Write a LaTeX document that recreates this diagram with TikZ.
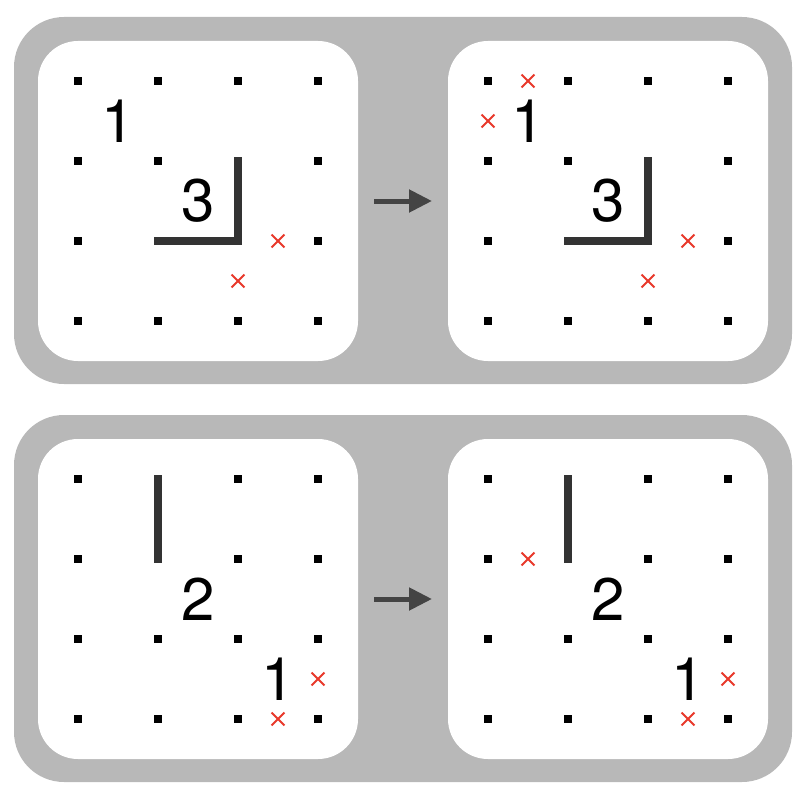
\documentclass[tikz,border=0pt]{standalone}
\usepackage{fontspec}
\setmainfont{TeX Gyre Heros}
\usetikzlibrary{arrows.meta,shapes.misc}
\definecolor{panelgray}{RGB}{184,184,184}
\definecolor{wallc}{RGB}{51,51,51}
\definecolor{arrowc}{RGB}{68,68,68}
\definecolor{xred}{RGB}{232,57,43}
\tikzset{
  outerpanel/.style={fill=panelgray, rounded corners=50pt},
  innerpanel/.style={fill=white, rounded corners=40pt},
  gdot/.style={rectangle, fill=black, minimum size=8pt, inner sep=0pt},
  wall/.style={draw=wallc, line width=8pt, line cap=rect, line join=miter},
  num/.style={inner sep=0pt, font=\fontsize{60}{60}\selectfont},
  xmark/.style={cross out, draw=xred, line width=1.8pt, minimum size=11pt, inner sep=0pt},
  stepArrow/.style={draw=arrowc, line width=5pt, -{Triangle[length=23pt,width=22pt]}, fill=arrowc}
}
\begin{document}
\begin{tikzpicture}[x=1pt,y=-1pt]
\useasboundingbox (0,0) rectangle (806,800);
% outer panels
\path[outerpanel] (14,17) rectangle (792,384);
\path[outerpanel] (14,415) rectangle (792,782);
% arrows
\coordinate (a1s) at (374,201); \coordinate (a1e) at (432,201);
\coordinate (a2s) at (374,599); \coordinate (a2e) at (432,599);
\draw[stepArrow] (a1s) -- (a1e);
\draw[stepArrow] (a2s) -- (a2e);
% panels
\foreach \sx/\sy/\p in {0/0/tl, 410/0/tr, 0/398/bl, 410/398/br}{
  \begin{scope}[shift={(\sx,\sy)}]
    \path[innerpanel] (38,41) rectangle (358,361);
    \foreach \i in {0,1,2,3}{
      \foreach \j in {0,1,2,3}{
        \node[gdot] (\p-d\i\j) at (78+80*\i,81+80*\j) {};
      }
    }
  \end{scope}
}
% top-left panel
\draw[wall] (tl-d21.center) -- (tl-d22.center) -- (tl-d12.center);
\node[num] (tl-n1) at (118,121) {1};
\node[num] (tl-n3) at (198,201) {3};
\node[xmark] (tl-x1) at (278,241) {};
\node[xmark] (tl-x2) at (238,281) {};
% top-right panel
\begin{scope}[shift={(410,0)}]
\draw[wall] (tr-d21.center) -- (tr-d22.center) -- (tr-d12.center);
\node[num] (tr-n1) at (118,121) {1};
\node[num] (tr-n3) at (198,201) {3};
\node[xmark] (tr-x1) at (278,241) {};
\node[xmark] (tr-x2) at (238,281) {};
\node[xmark] (tr-x3) at (118,81) {};
\node[xmark] (tr-x4) at (78,121) {};
\end{scope}
% bottom-left panel
\begin{scope}[shift={(0,398)}]
\draw[wall] (bl-d10.center) -- (bl-d11.center);
\node[num] (bl-n2) at (198,201) {2};
\node[num] (bl-n1) at (278,281) {1};
\node[xmark] (bl-x1) at (318,281) {};
\node[xmark] (bl-x2) at (278,321) {};
\end{scope}
% bottom-right panel
\begin{scope}[shift={(410,398)}]
\draw[wall] (br-d10.center) -- (br-d11.center);
\node[num] (br-n2) at (198,201) {2};
\node[num] (br-n1) at (278,281) {1};
\node[xmark] (br-x1) at (318,281) {};
\node[xmark] (br-x2) at (278,321) {};
\node[xmark] (br-x3) at (118,161) {};
\end{scope}
\end{tikzpicture}
\end{document}
